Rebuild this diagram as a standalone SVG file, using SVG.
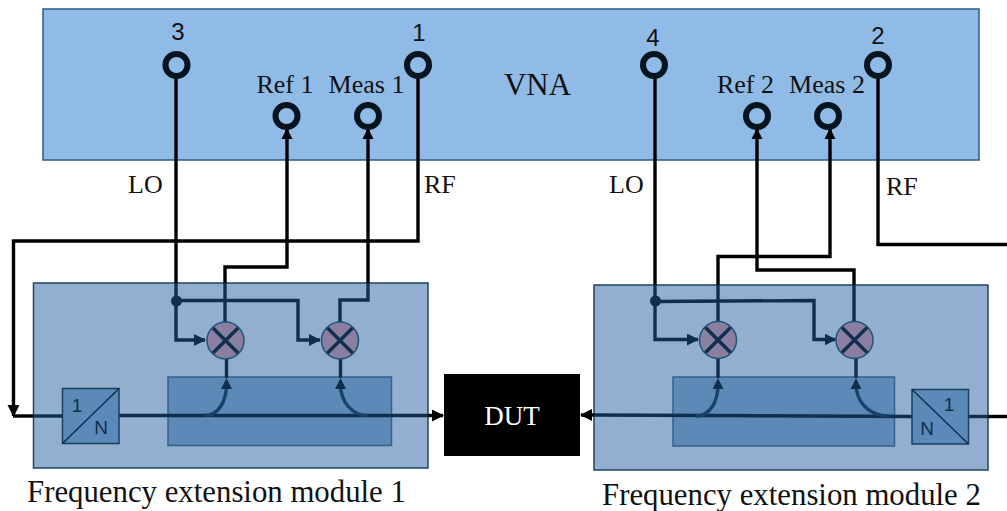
<svg xmlns="http://www.w3.org/2000/svg" width="1007" height="511" viewBox="0 0 1007 511">
<style>
.serif{font-family:"Liberation Serif","Times New Roman",serif;font-size:26px;fill:#111}
.sans{font-family:"Liberation Sans",Arial,sans-serif;font-size:24px;fill:#111;text-anchor:middle}
.mid{text-anchor:middle}
.port{fill:none;stroke:#05141f;stroke-width:6}
.mod{fill:#93afcf;stroke:#1d4464;stroke-width:1.5}
.cpl{fill:#5c89b6;stroke:#33628a;stroke-width:1.5}
.div{fill:#5b89b8;stroke:#17405f;stroke-width:1.5}
.mix{fill:#8a7fa0;stroke:#1f5378;stroke-width:1.5}
.x{stroke:#102f4e;stroke-width:3.5;fill:none}
.k{fill:none;stroke:#000;stroke-width:3.4}
.n{fill:none;stroke:#102f4e;stroke-width:3.4}
.b{fill:none;stroke:#17426b;stroke-width:3.4}
.thin{fill:none;stroke:#102f4e;stroke-width:1.5}
.small{font-family:"Liberation Sans",Arial,sans-serif;font-size:19px;fill:#102f4e;text-anchor:middle}
</style>
<defs>
<marker id="ak" markerUnits="userSpaceOnUse" markerWidth="13" markerHeight="13" refX="11" refY="6" orient="auto"><path d="M0 0L12 6L0 12Z" fill="#000"/></marker>
<marker id="an" markerUnits="userSpaceOnUse" markerWidth="13" markerHeight="13" refX="11" refY="6" orient="auto"><path d="M0 0L12 6L0 12Z" fill="#102f4e"/></marker>
</defs>

<g id="vna">
<rect x="43" y="9" width="936" height="151" fill="#90bbe7" stroke="#2d5c80" stroke-width="1.5"/>
<text class="serif mid" x="537.500" y="95" style="font-size:31px">VNA</text>
</g>
<g id="module1">
<rect class="mod" x="33.500" y="283" width="394.500" height="185"/>
<rect class="cpl" x="168" y="377" width="223.500" height="68.500"/>
</g>
<g id="module2">
<rect class="mod" x="594" y="285" width="394" height="185"/>
<rect class="cpl" x="673" y="377" width="221.500" height="69"/>
</g>

<g id="connectors">
<path class="k" d="M176 76V283"/>
<path class="n" d="M176 283V340H205" marker-end="url(#an)"/>
<path class="n" d="M176 300.500H298V340H320" marker-end="url(#an)"/>
<path class="k" d="M287 128V267H225V283"/>
<path class="n" d="M225 283V322"/>
<path class="k" d="M368 128V283"/>
<path class="n" d="M368 283V300H340V322"/>
<path class="k" d="M418 76V241H13.500V416" marker-end="url(#ak)"/>
<path class="k" d="M13 416H33"/>
<path class="n" d="M33 416H63"/>
<path class="n" d="M119 415.500H428"/>
<path class="k" d="M428 415.500H443" marker-end="url(#ak)"/>
<path class="b" d="M205 415.500C218 415.500 226.500 402 226.500 384"/>
<path class="n" d="M226.500 358V378"/>
<path class="b" d="M368 415.500C352 415.500 340.500 402 340.500 384"/>
<path class="n" d="M340.500 358V378"/>
<path class="k" d="M655 76V285"/>
<path class="n" d="M655 285V339.500H698" marker-end="url(#an)"/>
<path class="n" d="M655 301.500L814 300.500V339.500H835.500" marker-end="url(#an)"/>
<path class="k" d="M830 128V256.500H718V285"/>
<path class="n" d="M718 285V322"/>
<path class="k" d="M757 128V270H854V285"/>
<path class="n" d="M854 285V322"/>
<path class="k" d="M878 76V244.500H1007"/>
<path class="k" d="M1007 416.500H988"/>
<path class="n" d="M988 416.500H969"/>
<path class="n" d="M912 416.500L594 415"/>
<path class="k" d="M594 415L581 415" marker-end="url(#ak)"/>
<path class="b" d="M696 416C710 416 718 402 718 384"/>
<path class="n" d="M718 358V378"/>
<path class="b" d="M889 416C869 416 856 402 856 384"/>
<path class="n" d="M856 358V378"/>
<path d="M221 389L226.500 378L232 389Z M335 389L340.500 378L346 389Z M712.500 389L718 378L723.500 389Z M850.500 389L856 378L861.500 389Z" fill="#102f4e"/>
<path d="M281.500 139L287 128L292.500 139Z M362.500 139L368 128L373.500 139Z M751.500 139L757 128L762.500 139Z M824.500 139L830 128L835.500 139Z" fill="#000"/>
<circle cx="176.500" cy="301" r="5.500" fill="#102f4e"/>
<circle cx="655.500" cy="301" r="5.500" fill="#102f4e"/>
</g>

<g id="port3"><circle class="port" cx="176.500" cy="65" r="11"/><text class="sans" x="178" y="40">3</text></g>
<g id="port1"><circle class="port" cx="418" cy="65" r="11"/><text class="sans" x="419" y="41">1</text></g>
<g id="port4"><circle class="port" cx="654" cy="65" r="11"/><text class="sans" x="653" y="46">4</text></g>
<g id="port2"><circle class="port" cx="878" cy="65" r="11"/><text class="sans" x="878" y="44">2</text></g>
<g id="ref1"><circle class="port" cx="286.500" cy="116" r="11"/><text class="serif mid" x="285" y="93">Ref 1</text></g>
<g id="meas1"><circle class="port" cx="368" cy="116" r="11"/><text class="serif mid" x="366.500" y="93">Meas 1</text></g>
<g id="ref2"><circle class="port" cx="757" cy="116" r="11"/><text class="serif mid" x="745.500" y="93">Ref 2</text></g>
<g id="meas2"><circle class="port" cx="828" cy="116" r="11"/><text class="serif mid" x="827" y="93">Meas 2</text></g>

<g id="mixer1"><circle class="mix" cx="225.500" cy="340.500" r="18.500"/><path class="x" d="M213 328L238 353M238 328L213 353"/></g>
<g id="mixer2"><circle class="mix" cx="340" cy="340.500" r="18.500"/><path class="x" d="M327.500 328L352.500 353M352.500 328L327.500 353"/></g>
<g id="mixer3"><circle class="mix" cx="718" cy="340" r="18.500"/><path class="x" d="M705.500 327.500L730.500 352.500M730.500 327.500L705.500 352.500"/></g>
<g id="mixer4"><circle class="mix" cx="854.500" cy="340" r="18.500"/><path class="x" d="M842 327.500L867 352.500M867 327.500L842 352.500"/></g>

<g id="divider1"><rect class="div" x="62.500" y="388.500" width="56.500" height="55"/><path class="thin" d="M62.500 443.500L119 388.500"/><text class="small" x="77" y="412">1</text><text class="small" x="101" y="434">N</text></g>
<g id="divider2"><rect class="div" x="912" y="389.500" width="56.500" height="54.500"/><path class="thin" d="M912 389.500L968.500 444"/><text class="small" x="949" y="411">1</text><text class="small" x="927" y="435">N</text></g>

<g id="dut"><rect x="444" y="374" width="136" height="82" fill="#000"/><text class="serif mid" x="512" y="425" style="fill:#fff;font-size:27px">DUT</text></g>

<g id="labels">
<text class="serif" x="128" y="193">LO</text>
<text class="serif" x="424" y="193">RF</text>
<text class="serif" x="609" y="193">LO</text>
<text class="serif" x="886" y="195">RF</text>
<text class="serif" x="27" y="502" style="font-size:30.8px">Frequency extension module 1</text>
<text class="serif" x="602" y="505" style="font-size:30.8px">Frequency extension module 2</text>
</g>
</svg>
